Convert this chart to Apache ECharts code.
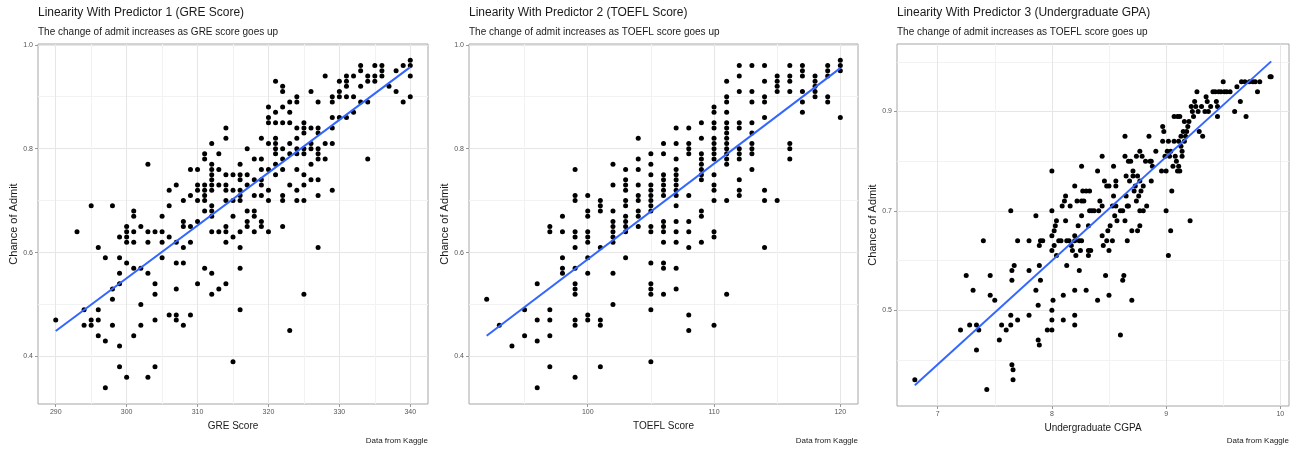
<!DOCTYPE html>
<html>
<head>
<meta charset="utf-8">
<script src="https://cdn.jsdelivr.net/npm/echarts@6/dist/echarts.min.js"></script>
<style>
  html, body { margin: 0; padding: 0; background: #fff; }
  #chart { width: 1293px; height: 451px; }
</style>
</head>
<body>
<div id="chart"></div>
<script>
// 数据：GRE 分数 vs 录取几率
const greData = [
    [290,0.47],[293,0.64],[294,0.49],[294,0.46],[295,0.69],[295,0.47],[295,0.46],
    [296,0.61],[296,0.49],[296,0.47],[296,0.44],[297,0.59],[297,0.43],[297,0.34],
    [298,0.69],[298,0.53],[298,0.51],[298,0.46],
    [299,0.63],[299,0.59],[299,0.56],[299,0.54],[299,0.42],[299,0.38],
    [300,0.65],[300,0.64],[300,0.63],[300,0.62],[300,0.58],[300,0.36],
    [301,0.68],[301,0.67],[301,0.64],[301,0.62],[301,0.57],[301,0.44],
    [302,0.65],[302,0.57],[302,0.50],[302,0.46],
    [303,0.77],[303,0.64],[303,0.62],[303,0.56],[303,0.36],
    [304,0.64],[304,0.54],[304,0.52],[304,0.47],[304,0.38],
    [305,0.67],[305,0.64],[305,0.62],[305,0.59],
    [306,0.72],[306,0.69],[306,0.63],[306,0.48],
    [307,0.73],[307,0.62],[307,0.58],[307,0.53],[307,0.48],[307,0.47],
    [308,0.70],[308,0.66],[308,0.65],[308,0.61],[308,0.58],[308,0.46],
    [309,0.76],[309,0.71],[309,0.65],[309,0.62],[309,0.48],
    [310,0.76],[310,0.73],[310,0.72],[310,0.70],[310,0.66],[310,0.54],
    [311,0.79],[311,0.78],[311,0.73],[311,0.72],[311,0.71],[311,0.70],[311,0.68],[311,0.57],
    [312,0.81],[312,0.77],[312,0.76],[312,0.75],[312,0.74],[312,0.73],[312,0.72],[312,0.69],
    [312,0.68],[312,0.67],[312,0.64],[312,0.56],[312,0.52],
    [313,0.79],[313,0.76],[313,0.73],[313,0.64],[313,0.53],
    [314,0.84],[314,0.82],[314,0.75],[314,0.73],[314,0.72],[314,0.70],[314,0.65],[314,0.64],[314,0.62],[314,0.54],
    [315,0.75],[315,0.72],[315,0.70],[315,0.67],[315,0.63],[315,0.39],
    [316,0.77],[316,0.75],[316,0.74],[316,0.72],[316,0.71],[316,0.70],[316,0.64],[316,0.61],[316,0.57],[316,0.49],
    [317,0.80],[317,0.75],[317,0.73],[317,0.68],[317,0.66],[317,0.65],
    [318,0.78],[318,0.74],[318,0.71],[318,0.68],[318,0.67],[318,0.64],
    [319,0.82],[319,0.78],[319,0.76],[319,0.74],[319,0.73],[319,0.71],[319,0.66],[319,0.65],
    [320,0.88],[320,0.86],[320,0.85],[320,0.81],[320,0.76],[320,0.72],[320,0.70],[320,0.64],
    [321,0.93],[321,0.87],[321,0.85],[321,0.82],[321,0.81],[321,0.80],[321,0.79],[321,0.77],[321,0.75],
    [322,0.92],[322,0.91],[322,0.88],[322,0.85],[322,0.80],[322,0.78],[322,0.76],[322,0.71],[322,0.70],[322,0.65],
    [323,0.89],[323,0.87],[323,0.85],[323,0.81],[323,0.79],[323,0.73],[323,0.45],
    [324,0.90],[324,0.89],[324,0.84],[324,0.82],[324,0.80],[324,0.79],[324,0.76],[324,0.72],[324,0.70],
    [325,0.85],[325,0.84],[325,0.83],[325,0.80],[325,0.79],[325,0.75],[325,0.73],[325,0.70],[325,0.52],
    [326,0.91],[326,0.84],[326,0.81],[326,0.80],[326,0.77],[326,0.74],
    [327,0.89],[327,0.84],[327,0.83],[327,0.80],[327,0.79],[327,0.78],[327,0.74],[327,0.71],[327,0.61],
    [328,0.94],[328,0.81],[328,0.78],
    [329,0.90],[329,0.89],[329,0.86],[329,0.84],[329,0.81],[329,0.72],
    [330,0.93],[330,0.91],[330,0.90],[330,0.86],
    [331,0.94],[331,0.93],[331,0.92],[331,0.90],[331,0.86],
    [332,0.94],[332,0.90],[332,0.87],
    [333,0.96],[333,0.95],[333,0.92],[333,0.89],
    [334,0.94],[334,0.93],[334,0.89],[334,0.78],
    [335,0.96],[335,0.94],[335,0.93],
    [336,0.96],[336,0.95],[336,0.94],
    [337,0.92],[338,0.95],[338,0.91],[339,0.96],[339,0.89],
    [340,0.97],[340,0.96],[340,0.94],[340,0.90]
];

// TOEFL 分数 vs 录取几率
const toeflData = [
    [92,0.51],[93,0.46],[94,0.42],[95,0.49],[95,0.44],
    [96,0.54],[96,0.47],[96,0.43],[96,0.34],
    [97,0.65],[97,0.64],[97,0.49],[97,0.47],[97,0.44],[97,0.38],
    [98,0.67],[98,0.64],[98,0.59],[98,0.57],[98,0.56],
    [99,0.76],[99,0.71],[99,0.70],[99,0.64],[99,0.63],[99,0.61],[99,0.57],[99,0.54],[99,0.53],
    [99,0.52],[99,0.47],[99,0.46],[99,0.36],
    [100,0.71],[100,0.68],[100,0.67],[100,0.64],[100,0.63],[100,0.62],[100,0.59],[100,0.56],[100,0.48],[100,0.47],
    [101,0.70],[101,0.69],[101,0.68],[101,0.61],[101,0.47],[101,0.46],[101,0.38],
    [102,0.77],[102,0.73],[102,0.68],[102,0.66],[102,0.65],[102,0.64],[102,0.63],[102,0.62],[102,0.56],[102,0.50],
    [103,0.76],[103,0.74],[103,0.73],[103,0.72],[103,0.70],[103,0.69],[103,0.67],[103,0.66],[103,0.65],[103,0.64],[103,0.59],
    [104,0.82],[104,0.78],[104,0.76],[104,0.73],[104,0.71],[104,0.70],[104,0.68],[104,0.67],[104,0.65],
    [105,0.79],[105,0.77],[105,0.75],[105,0.73],[105,0.72],[105,0.71],[105,0.70],[105,0.69],[105,0.68],
    [105,0.65],[105,0.64],[105,0.58],[105,0.54],[105,0.53],[105,0.52],[105,0.49],[105,0.39],
    [106,0.81],[106,0.79],[106,0.75],[106,0.74],[106,0.73],[106,0.72],[106,0.71],[106,0.66],[106,0.65],
    [106,0.64],[106,0.62],[106,0.58],[106,0.57],[106,0.52],
    [107,0.84],[107,0.81],[107,0.78],[107,0.76],[107,0.75],[107,0.74],[107,0.73],[107,0.72],[107,0.71],
    [107,0.69],[107,0.66],[107,0.64],[107,0.62],[107,0.57],[107,0.53],
    [108,0.84],[108,0.81],[108,0.80],[108,0.79],[108,0.71],[108,0.66],[108,0.64],[108,0.61],[108,0.48],[108,0.45],
    [109,0.85],[109,0.82],[109,0.79],[109,0.78],[109,0.77],[109,0.76],[109,0.75],[109,0.74],[109,0.68],[109,0.67],[109,0.62],
    [110,0.88],[110,0.87],[110,0.85],[110,0.84],[110,0.82],[110,0.81],[110,0.80],[110,0.79],[110,0.78],
    [110,0.75],[110,0.73],[110,0.72],[110,0.70],[110,0.64],[110,0.63],[110,0.46],
    [111,0.93],[111,0.90],[111,0.89],[111,0.87],[111,0.85],[111,0.84],[111,0.83],[111,0.82],[111,0.81],
    [111,0.80],[111,0.79],[111,0.78],[111,0.77],[111,0.70],[111,0.52],
    [112,0.96],[112,0.94],[112,0.91],[112,0.85],[112,0.84],[112,0.80],[112,0.79],[112,0.78],[112,0.74],[112,0.72],[112,0.71],
    [113,0.96],[113,0.91],[113,0.89],[113,0.85],[113,0.83],[113,0.81],[113,0.80],[113,0.79],[113,0.76],
    [114,0.96],[114,0.93],[114,0.90],[114,0.89],[114,0.86],[114,0.72],[114,0.70],[114,0.61],
    [115,0.94],[115,0.93],[115,0.92],[115,0.91],[115,0.70],
    [116,0.96],[116,0.94],[116,0.93],[116,0.91],[116,0.81],[116,0.80],[116,0.78],
    [117,0.96],[117,0.95],[117,0.94],[117,0.91],[117,0.89],[117,0.87],
    [118,0.94],[118,0.93],[118,0.92],[118,0.91],[118,0.90],
    [119,0.96],[119,0.95],[119,0.94],[119,0.90],[119,0.89],
    [120,0.97],[120,0.96],[120,0.95],[120,0.86]
];

// 本科 CGPA vs 录取几率
const cgpaData = [
    [6.80,0.36],[7.20,0.46],[7.25,0.57],[7.28,0.47],[7.31,0.54],[7.34,0.47],[7.34,0.42],[7.36,0.46],
    [7.40,0.64],[7.43,0.34],[7.46,0.57],[7.46,0.53],[7.50,0.52],[7.54,0.44],[7.56,0.47],[7.60,0.46],
    [7.64,0.70],[7.64,0.49],[7.64,0.47],[7.65,0.58],[7.65,0.56],[7.67,0.59],[7.65,0.39],[7.66,0.38],
    [7.66,0.36],[7.70,0.48],[7.70,0.64],[7.80,0.64],[7.80,0.58],[7.80,0.49],[7.86,0.69],[7.86,0.54],
    [7.88,0.51],[7.88,0.44],[7.89,0.43],[7.89,0.63],[7.90,0.64],[7.89,0.59],[7.90,0.56],[7.92,0.64],[7.96,0.46],
    [8.00,0.78],[8.00,0.70],[8.00,0.65],[8.00,0.62],[8.00,0.50],[8.00,0.48],[8.00,0.46],[8.01,0.52],
    [8.02,0.63],[8.02,0.66],[8.03,0.67],[8.04,0.68],[8.04,0.61],[8.06,0.64],[8.08,0.64],[8.09,0.71],
    [8.10,0.53],[8.10,0.48],[8.11,0.72],[8.12,0.73],[8.12,0.68],[8.13,0.64],[8.13,0.59],[8.15,0.64],
    [8.16,0.71],[8.17,0.63],[8.18,0.62],[8.20,0.75],[8.20,0.54],[8.20,0.49],[8.20,0.47],[8.20,0.65],
    [8.20,0.64],[8.21,0.61],[8.22,0.72],[8.23,0.67],[8.24,0.58],[8.24,0.64],[8.25,0.62],[8.26,0.72],
    [8.26,0.79],[8.26,0.64],[8.26,0.69],[8.27,0.74],[8.28,0.72],[8.30,0.74],[8.30,0.54],[8.32,0.61],
    [8.32,0.62],[8.32,0.67],[8.33,0.74],[8.33,0.70],[8.34,0.62],[8.35,0.70],[8.37,0.70],[8.40,0.78],
    [8.40,0.52],[8.41,0.70],[8.42,0.72],[8.44,0.81],[8.44,0.71],[8.44,0.65],[8.45,0.63],[8.46,0.76],
    [8.47,0.57],[8.48,0.75],[8.48,0.64],[8.49,0.66],[8.50,0.75],[8.50,0.62],[8.50,0.53],[8.51,0.67],
    [8.53,0.71],[8.53,0.64],[8.54,0.79],[8.54,0.73],[8.55,0.69],[8.56,0.76],[8.56,0.75],[8.56,0.71],
    [8.57,0.68],[8.60,0.70],[8.60,0.45],[8.62,0.70],[8.62,0.56],[8.63,0.57],[8.64,0.85],[8.64,0.81],
    [8.64,0.68],[8.65,0.77],[8.65,0.73],[8.66,0.71],[8.66,0.64],[8.67,0.71],[8.67,0.80],[8.68,0.76],
    [8.69,0.80],[8.70,0.52],[8.70,0.66],[8.71,0.78],[8.71,0.77],[8.72,0.74],[8.73,0.75],[8.74,0.81],
    [8.74,0.72],[8.75,0.77],[8.75,0.66],[8.76,0.73],[8.77,0.82],[8.77,0.76],[8.77,0.70],[8.77,0.67],
    [8.78,0.74],[8.79,0.81],[8.80,0.75],[8.80,0.70],[8.82,0.80],[8.83,0.71],[8.85,0.85],[8.86,0.80],
    [8.87,0.80],[8.87,0.76],[8.88,0.79],[8.91,0.82],[8.96,0.78],[8.97,0.87],[8.97,0.84],[8.98,0.86],[8.99,0.81],
    [9.00,0.70],[9.00,0.78],[9.01,0.82],[9.02,0.61],[9.02,0.84],[9.03,0.81],[9.04,0.66],[9.04,0.82],
    [9.05,0.74],[9.06,0.79],[9.07,0.89],[9.07,0.84],[9.08,0.81],[9.09,0.80],[9.10,0.89],[9.10,0.78],
    [9.11,0.79],[9.11,0.84],[9.12,0.89],[9.12,0.78],[9.13,0.85],[9.13,0.83],[9.14,0.82],[9.14,0.81],
    [9.15,0.86],[9.16,0.88],[9.16,0.84],[9.17,0.85],[9.18,0.86],[9.19,0.87],[9.20,0.88],[9.21,0.68],
    [9.22,0.91],[9.23,0.90],[9.24,0.89],[9.25,0.92],[9.26,0.91],[9.27,0.94],[9.28,0.90],[9.29,0.86],
    [9.31,0.91],[9.32,0.85],[9.34,0.90],[9.35,0.93],[9.36,0.92],[9.37,0.90],[9.39,0.91],[9.41,0.94],
    [9.43,0.94],[9.44,0.92],[9.45,0.89],[9.45,0.91],[9.46,0.94],[9.48,0.94],[9.50,0.96],[9.51,0.94],
    [9.53,0.94],[9.56,0.94],[9.60,0.90],[9.62,0.95],[9.65,0.92],[9.66,0.96],[9.69,0.96],[9.70,0.89],
    [9.73,0.96],[9.76,0.96],[9.78,0.96],[9.80,0.94],[9.82,0.96],[9.91,0.97],[9.92,0.97]
];

// 线性拟合线两端
const greFit = [[290, 0.449], [340, 0.957]];
const toeflFit = [[92, 0.44], [120, 0.955]];
const cgpaFit = [[6.8, 0.349], [9.92, 1.001]];

// 刻度
const greTicks = [290, 300, 310, 320, 330, 340];
const greMinor = [295, 305, 315, 325, 335];
const toeflTicks = [100, 110, 120];
const toeflMinor = [95, 105, 115];
const cgpaTicks = [7, 8, 9, 10];
const cgpaMinor = [7.5, 8.5, 9.5];
const admitTicks = [0.4, 0.6, 0.8, 1.0];
const admitMinor = [0.5, 0.7, 0.9];
const cgpaAdmitTicks = [0.5, 0.7, 0.9];
const cgpaAdmitMinor = [0.4, 0.6, 0.8, 1.0];

const panels = [
    {
        title: 'Linearity With Predictor 1 (GRE Score)',
        subtitle: 'The change of admit increases as GRE score goes up',
        xName: 'GRE Score',
        data: greData, fit: greFit,
        xMin: 287.5, xMax: 342.5, xTicks: greTicks, xMinor: greMinor,
        yMin: 0.3085, yMax: 1.0015, yTicks: admitTicks, yMinor: admitMinor,
        box: { left: 38, top: 44, width: 390, height: 360 }
    },
    {
        title: 'Linearity With Predictor 2 (TOEFL Score)',
        subtitle: 'The change of admit increases as TOEFL score goes up',
        xName: 'TOEFL Score',
        data: toeflData, fit: toeflFit,
        xMin: 90.6, xMax: 121.4, xTicks: toeflTicks, xMinor: toeflMinor,
        yMin: 0.3085, yMax: 1.0015, yTicks: admitTicks, yMinor: admitMinor,
        box: { left: 469, top: 44, width: 389, height: 360 }
    },
    {
        title: 'Linearity With Predictor 3 (Undergraduate GPA)',
        subtitle: 'The change of admit increases as TOEFL score goes up',
        xName: 'Undergraduate CGPA',
        data: cgpaData, fit: cgpaFit,
        xMin: 6.644, xMax: 10.076, xTicks: cgpaTicks, xMinor: cgpaMinor,
        yMin: 0.307, yMax: 1.036, yTicks: cgpaAdmitTicks, yMinor: cgpaAdmitMinor,
        box: { left: 897, top: 44, width: 392, height: 362 }
    }
];

const chart = echarts.init(document.getElementById('chart'), null, { renderer: 'canvas' });

const titles = [];
const grids = [];
const xAxes = [];
const yAxes = [];
const series = [];

panels.forEach((p, i) => {
    const b = p.box;
    titles.push({
        text: p.title, left: b.left, top: 7, padding: 0,
        textStyle: { fontSize: 12, fontWeight: 'normal', color: '#1a1a1a' }
    });
    titles.push({
        text: p.subtitle, left: b.left, top: 27, padding: 0,
        textStyle: { fontSize: 10, fontWeight: 'normal', color: '#1a1a1a' }
    });
    titles.push({
        text: 'Data from Kaggle', right: 1293 - (b.left + b.width), top: 437, padding: 0,
        textStyle: { fontSize: 8, fontWeight: 'normal', color: '#1a1a1a' }
    });

    grids.push({
        left: b.left, top: b.top, width: b.width, height: b.height,
        show: true, borderColor: '#a6a6a6', borderWidth: 1, backgroundColor: 'transparent'
    });

    // 主刻度轴
    xAxes.push({
        type: 'value', gridIndex: i, min: p.xMin, max: p.xMax,
        name: p.xName, nameLocation: 'middle', nameGap: 16,
        nameTextStyle: { fontSize: 10, color: '#1a1a1a' },
        axisLine: { show: false },
        axisTick: { show: true, length: 3, customValues: p.xTicks, lineStyle: { color: '#999' } },
        axisLabel: { customValues: p.xTicks, fontSize: 7, color: '#555', margin: 5 },
        splitLine: { show: true, lineStyle: { color: '#e6e6e6', width: 1 } }
    });
    // 次网格线
    xAxes.push({
        type: 'value', gridIndex: i, min: p.xMin, max: p.xMax,
        axisLine: { show: false },
        axisTick: { show: false, customValues: p.xMinor },
        axisLabel: { show: false, customValues: p.xMinor },
        splitLine: { show: true, lineStyle: { color: '#f2f2f2', width: 1 } }
    });

    yAxes.push({
        type: 'value', gridIndex: i, min: p.yMin, max: p.yMax,
        name: 'Chance of Admit', nameLocation: 'middle', nameGap: 16,
        nameTextStyle: { fontSize: 11, color: '#1a1a1a' },
        axisLine: { show: false },
        axisTick: { show: true, length: 3, customValues: p.yTicks, lineStyle: { color: '#999' } },
        axisLabel: {
            customValues: p.yTicks, fontSize: 7, color: '#555', margin: 5,
            formatter: v => v.toFixed(1)
        },
        splitLine: { show: true, lineStyle: { color: '#e6e6e6', width: 1 } }
    });
    yAxes.push({
        type: 'value', gridIndex: i, min: p.yMin, max: p.yMax,
        axisLine: { show: false },
        axisTick: { show: false, customValues: p.yMinor },
        axisLabel: { show: false, customValues: p.yMinor },
        splitLine: { show: true, lineStyle: { color: '#f2f2f2', width: 1 } }
    });

    series.push({
        type: 'scatter',
        xAxisIndex: i * 2, yAxisIndex: i * 2,
        data: p.data,
        symbolSize: 5,
        itemStyle: { color: '#000', opacity: 1 },
        silent: true
    });
    series.push({
        type: 'line',
        xAxisIndex: i * 2, yAxisIndex: i * 2,
        data: p.fit,
        showSymbol: false,
        lineStyle: { color: '#3366FF', width: 2 },
        z: 3,
        silent: true
    });
});

const option = {
    backgroundColor: '#fff',
    animation: false,
    textStyle: { fontFamily: 'Liberation Sans, Arial, sans-serif' },
    title: titles,
    grid: grids,
    xAxis: xAxes,
    yAxis: yAxes,
    series: series
};

chart.setOption(option);

window.addEventListener('resize', () => {
    chart.resize();
});
</script>
</body>
</html>
